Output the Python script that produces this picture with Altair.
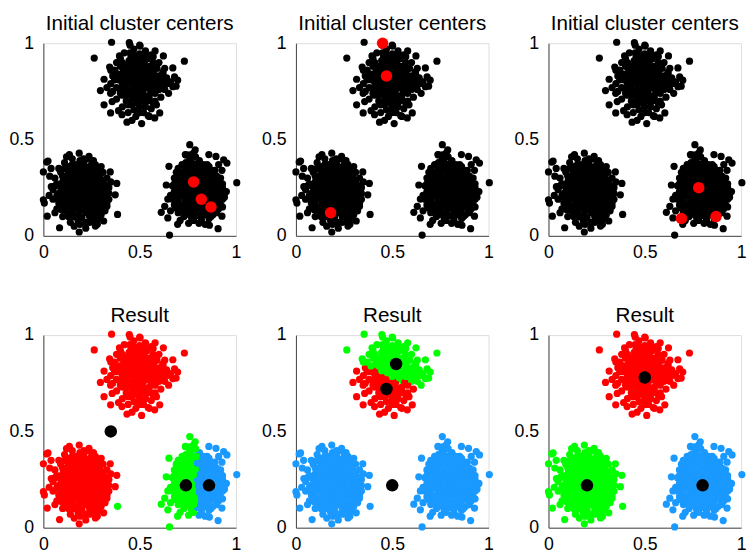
import altair as alt
import pandas as pd

# ---- data (same point cloud in every panel) ----
TOP = [
    # outer points
    (0.354, 1.005), (0.446, 1.003), (0.502, 0.985), (0.264, 0.923), (0.395, 0.934),
    (0.623, 0.934), (0.732, 0.907), (0.344, 0.876), (0.672, 0.872), (0.315, 0.813),
    (0.681, 0.825), (0.689, 0.777), (0.296, 0.754), (0.349, 0.740), (0.315, 0.680),
    (0.357, 0.697), (0.349, 0.638), (0.408, 0.629), (0.434, 0.590), (0.510, 0.583),
    (0.544, 0.624), (0.587, 0.680), (0.604, 0.638), (0.646, 0.791), (0.621, 0.842),
    (0.578, 0.612), (0.697, 0.808), (0.672, 0.774),
    # ring
    (0.38, 0.90), (0.42, 0.95), (0.47, 0.97), (0.53, 0.96), (0.57, 0.93), (0.60, 0.90),
    (0.63, 0.87), (0.64, 0.82), (0.63, 0.76), (0.61, 0.72), (0.58, 0.70), (0.56, 0.66),
    (0.52, 0.64), (0.48, 0.62), (0.44, 0.64), (0.41, 0.67), (0.38, 0.71), (0.36, 0.75),
    (0.35, 0.79), (0.36, 0.83), (0.37, 0.86), (0.40, 0.92), (0.55, 0.62), (0.46, 0.60),
    (0.39, 0.65), (0.33, 0.77), (0.35, 0.86), (0.60, 0.79), (0.62, 0.85), (0.58, 0.96),
    (0.50, 0.99), (0.45, 0.99), (0.40, 0.88), (0.66, 0.80), (0.65, 0.74),
    (0.38, 0.77), (0.39, 0.81), (0.60, 0.76), (0.61, 0.81), (0.59, 0.87), (0.42, 0.87),
    (0.44, 0.68), (0.53, 0.67), (0.50, 0.64), (0.57, 0.90), (0.41, 0.90), (0.45, 0.95),
    (0.52, 0.92), (0.47, 0.655), (0.54, 0.70), (0.37, 0.81), (0.62, 0.79), (0.43, 0.73),
    (0.40, 0.74), (0.56, 0.94),
    # core
    (0.46, 0.68), (0.50, 0.67), (0.43, 0.70), (0.47, 0.71), (0.51, 0.70), (0.55, 0.71),
    (0.41, 0.73), (0.445, 0.74), (0.48, 0.73), (0.515, 0.735), (0.55, 0.73), (0.58, 0.74),
    (0.40, 0.76), (0.43, 0.765), (0.46, 0.76), (0.49, 0.77), (0.52, 0.76), (0.55, 0.765),
    (0.58, 0.77), (0.41, 0.79), (0.445, 0.795), (0.48, 0.79), (0.515, 0.80), (0.55, 0.79),
    (0.585, 0.80), (0.40, 0.82), (0.43, 0.825), (0.46, 0.82), (0.49, 0.83), (0.52, 0.82),
    (0.55, 0.825), (0.58, 0.83), (0.415, 0.85), (0.45, 0.855), (0.48, 0.85), (0.515, 0.86),
    (0.55, 0.85), (0.575, 0.86), (0.43, 0.88), (0.46, 0.885), (0.49, 0.88), (0.52, 0.89),
    (0.55, 0.88), (0.445, 0.91), (0.48, 0.915), (0.51, 0.91), (0.54, 0.92), (0.47, 0.94),
    (0.50, 0.945), (0.53, 0.94), (0.42, 0.80), (0.57, 0.69), (0.60, 0.83), (0.39, 0.84),
    (0.45, 0.695), (0.49, 0.69), (0.53, 0.695), (0.46, 0.725), (0.50, 0.72), (0.535, 0.725),
    (0.415, 0.755), (0.475, 0.75), (0.505, 0.745), (0.565, 0.755), (0.43, 0.785), (0.465, 0.78),
    (0.50, 0.785), (0.535, 0.78), (0.57, 0.785), (0.415, 0.81), (0.445, 0.815), (0.475, 0.805),
    (0.505, 0.81), (0.535, 0.805), (0.565, 0.815), (0.43, 0.84), (0.465, 0.835), (0.50, 0.845),
    (0.535, 0.84), (0.565, 0.845), (0.445, 0.87), (0.475, 0.865), (0.505, 0.875), (0.535, 0.87),
    (0.56, 0.87), (0.46, 0.90), (0.495, 0.895), (0.525, 0.905), (0.455, 0.93), (0.49, 0.925),
    (0.52, 0.93),
]

LEFT = [
    # outer points
    (0.024, 0.388), (0.000, 0.332), (0.033, 0.310), (0.135, 0.422), (0.186, 0.429),
    (0.237, 0.412), (0.347, 0.332), (0.381, 0.272), (0.373, 0.213), (0.330, 0.153),
    (0.385, 0.111), (0.000, 0.187), (0.005, 0.170), (0.020, 0.102), (0.084, 0.042),
    (0.186, 0.020), (0.270, 0.051), (0.313, 0.077), (0.041, 0.255), (0.017, 0.383),
    # ring
    (0.06, 0.30), (0.08, 0.35), (0.11, 0.38), (0.15, 0.40), (0.21, 0.40), (0.26, 0.39),
    (0.30, 0.36), (0.33, 0.30), (0.34, 0.25), (0.34, 0.19), (0.32, 0.13), (0.29, 0.09),
    (0.24, 0.07), (0.19, 0.06), (0.14, 0.07), (0.10, 0.10), (0.07, 0.14), (0.05, 0.19),
    (0.05, 0.24), (0.03, 0.21), (0.09, 0.33), (0.16, 0.05), (0.22, 0.04), (0.28, 0.06),
    (0.35, 0.28), (0.06, 0.12), (0.12, 0.41), (0.04, 0.35),
    (0.07, 0.21), (0.06, 0.26), (0.10, 0.31), (0.13, 0.10), (0.18, 0.08), (0.22, 0.07),
    (0.26, 0.08), (0.30, 0.11), (0.33, 0.17), (0.34, 0.22), (0.31, 0.33), (0.27, 0.37),
    (0.23, 0.40), (0.19, 0.39), (0.15, 0.37), (0.11, 0.35), (0.08, 0.17), (0.095, 0.135),
    (0.20, 0.36), (0.30, 0.29),
    # core
    (0.16, 0.10), (0.20, 0.095), (0.24, 0.10), (0.12, 0.13), (0.155, 0.135), (0.19, 0.13),
    (0.225, 0.135), (0.26, 0.13), (0.29, 0.135), (0.10, 0.16), (0.135, 0.165), (0.17, 0.16),
    (0.205, 0.165), (0.24, 0.16), (0.275, 0.165), (0.31, 0.16), (0.085, 0.19), (0.12, 0.195),
    (0.155, 0.19), (0.19, 0.195), (0.225, 0.19), (0.26, 0.195), (0.295, 0.19), (0.32, 0.20),
    (0.08, 0.22), (0.11, 0.225), (0.145, 0.22), (0.18, 0.225), (0.215, 0.22), (0.25, 0.225),
    (0.285, 0.22), (0.32, 0.23), (0.09, 0.25), (0.125, 0.255), (0.16, 0.25), (0.195, 0.255),
    (0.23, 0.25), (0.265, 0.255), (0.30, 0.25), (0.33, 0.26), (0.10, 0.28), (0.135, 0.285),
    (0.17, 0.28), (0.205, 0.285), (0.24, 0.28), (0.275, 0.285), (0.31, 0.28), (0.115, 0.31),
    (0.15, 0.315), (0.185, 0.31), (0.22, 0.315), (0.255, 0.31), (0.29, 0.315), (0.14, 0.34),
    (0.175, 0.345), (0.21, 0.34), (0.245, 0.345), (0.28, 0.34), (0.17, 0.37), (0.21, 0.375),
    (0.25, 0.37), (0.07, 0.27), (0.13, 0.36), (0.27, 0.11),
    (0.14, 0.115), (0.18, 0.11), (0.22, 0.12), (0.255, 0.115), (0.115, 0.145), (0.15, 0.15),
    (0.185, 0.145), (0.22, 0.15), (0.255, 0.145), (0.29, 0.15), (0.10, 0.175), (0.14, 0.18),
    (0.175, 0.175), (0.21, 0.18), (0.245, 0.175), (0.28, 0.18), (0.30, 0.175), (0.095, 0.205),
    (0.135, 0.21), (0.17, 0.205), (0.205, 0.21), (0.24, 0.205), (0.275, 0.21), (0.305, 0.205),
    (0.095, 0.235), (0.13, 0.24), (0.165, 0.235), (0.20, 0.24), (0.235, 0.235), (0.27, 0.24),
    (0.305, 0.235), (0.11, 0.265), (0.145, 0.27), (0.18, 0.265), (0.215, 0.27), (0.25, 0.265),
    (0.285, 0.27), (0.315, 0.265), (0.12, 0.295), (0.155, 0.30), (0.19, 0.295), (0.225, 0.30),
    (0.26, 0.295), (0.295, 0.30), (0.13, 0.325), (0.165, 0.33), (0.20, 0.325), (0.235, 0.33),
    (0.27, 0.325), (0.16, 0.355), (0.195, 0.36), (0.23, 0.355), (0.26, 0.36),
]

RIGHT = [
    # outer points
    (0.760, 0.473), (0.788, 0.446), (0.737, 0.422), (0.859, 0.422), (0.896, 0.412),
    (0.936, 0.395), (0.953, 0.378), (0.927, 0.340), (1.004, 0.276), (0.652, 0.361),
    (0.638, 0.264), (0.646, 0.191), (0.630, 0.153), (0.612, 0.122), (0.646, 0.093),
    (0.697, 0.060), (0.754, 0.065), (0.808, 0.065), (0.862, 0.055), (0.907, 0.037),
    (0.655, 0.004), (0.927, 0.102), (0.930, 0.150),
    # ring
    (0.69, 0.33), (0.72, 0.37), (0.76, 0.40), (0.81, 0.39), (0.85, 0.37), (0.89, 0.34),
    (0.92, 0.30), (0.93, 0.25), (0.94, 0.20), (0.92, 0.16), (0.90, 0.12), (0.86, 0.09),
    (0.82, 0.08), (0.77, 0.09), (0.73, 0.10), (0.70, 0.12), (0.68, 0.16), (0.66, 0.21),
    (0.67, 0.26), (0.68, 0.30), (0.74, 0.42), (0.78, 0.43), (0.66, 0.13), (0.71, 0.08),
    (0.91, 0.37), (0.95, 0.23), (0.84, 0.06), (0.79, 0.41),
    (0.67, 0.19), (0.68, 0.27), (0.70, 0.35), (0.74, 0.38), (0.83, 0.37), (0.87, 0.34),
    (0.90, 0.31), (0.93, 0.27), (0.93, 0.19), (0.91, 0.14), (0.87, 0.10), (0.82, 0.095),
    (0.78, 0.08), (0.74, 0.12), (0.71, 0.13), (0.69, 0.145), (0.76, 0.42), (0.79, 0.36),
    (0.94, 0.22), (0.85, 0.32),
    # core
    (0.76, 0.11), (0.80, 0.105), (0.84, 0.11), (0.72, 0.14), (0.755, 0.145), (0.79, 0.14),
    (0.825, 0.145), (0.86, 0.14), (0.89, 0.145), (0.70, 0.17), (0.735, 0.175), (0.77, 0.17),
    (0.805, 0.175), (0.84, 0.17), (0.875, 0.175), (0.905, 0.17), (0.69, 0.20), (0.725, 0.205),
    (0.76, 0.20), (0.795, 0.205), (0.83, 0.20), (0.865, 0.205), (0.90, 0.20), (0.925, 0.21),
    (0.68, 0.23), (0.715, 0.235), (0.75, 0.23), (0.785, 0.235), (0.82, 0.23), (0.855, 0.235),
    (0.89, 0.23), (0.92, 0.24), (0.69, 0.26), (0.725, 0.265), (0.76, 0.26), (0.795, 0.265),
    (0.83, 0.26), (0.865, 0.265), (0.90, 0.26), (0.70, 0.29), (0.735, 0.295), (0.77, 0.29),
    (0.805, 0.295), (0.84, 0.29), (0.875, 0.295), (0.72, 0.32), (0.755, 0.325), (0.79, 0.32),
    (0.825, 0.325), (0.86, 0.32), (0.74, 0.35), (0.78, 0.355), (0.82, 0.35), (0.77, 0.38),
    (0.80, 0.375), (0.88, 0.11), (0.71, 0.31), (0.91, 0.28),
    (0.74, 0.125), (0.78, 0.12), (0.82, 0.13), (0.855, 0.125), (0.715, 0.155), (0.75, 0.16),
    (0.785, 0.155), (0.82, 0.16), (0.855, 0.155), (0.885, 0.16), (0.70, 0.185), (0.74, 0.19),
    (0.775, 0.185), (0.81, 0.19), (0.845, 0.185), (0.88, 0.19), (0.905, 0.185), (0.695, 0.215),
    (0.735, 0.22), (0.77, 0.215), (0.805, 0.22), (0.84, 0.215), (0.875, 0.22), (0.905, 0.215),
    (0.695, 0.245), (0.73, 0.25), (0.765, 0.245), (0.80, 0.25), (0.835, 0.245), (0.87, 0.25),
    (0.905, 0.245), (0.71, 0.275), (0.745, 0.28), (0.78, 0.275), (0.815, 0.28), (0.85, 0.275),
    (0.885, 0.28), (0.91, 0.275), (0.72, 0.305), (0.755, 0.31), (0.79, 0.305), (0.825, 0.31),
    (0.86, 0.305), (0.89, 0.31), (0.73, 0.335), (0.765, 0.34), (0.80, 0.335), (0.835, 0.34),
    (0.87, 0.335), (0.76, 0.365), (0.795, 0.37), (0.83, 0.365), (0.86, 0.36),
]

INIT_CENTERS = [
    [(0.78, 0.28), (0.82, 0.19), (0.87, 0.15)],
    [(0.45, 1.00), (0.47, 0.83), (0.18, 0.12)],
    [(0.78, 0.25), (0.69, 0.09), (0.87, 0.10)],
]
# result centers listed in the order red, green, blue
RESULT_CENTERS = [
    [(0.35, 0.50), (0.74, 0.22), (0.86, 0.22)],
    [(0.47, 0.72), (0.52, 0.85), (0.50, 0.22)],
    [(0.50, 0.78), (0.20, 0.22), (0.80, 0.22)],
]
GROUPS = ["red", "green", "blue"]
COLOR_DOMAIN = ["black", "red", "green", "blue"]
COLOR_RANGE = ["#000000", "#FF0000", "#00FF00", "#1A99FF"]

points = pd.DataFrame(TOP + LEFT + RIGHT, columns=["x", "y"])

FONT = "Liberation Sans"
W = 196
H = 196


def scales():
    x = alt.X("x:Q", scale=alt.Scale(domain=[0, 1], nice=False),
              axis=alt.Axis(values=[0, 0.5, 1], format="~g", title=None, grid=False,
                            ticks=False, labelPadding=8, labelFontSize=18, labelFont=FONT,
                            labelColor="#000000", domainColor="#444444", labelFlush=False))
    y = alt.Y("y:Q", scale=alt.Scale(domain=[0, 1], nice=False),
              axis=alt.Axis(values=[0, 0.5, 1], format="~g", title=None, grid=False,
                            ticks=False, labelPadding=10, labelFontSize=18, labelFont=FONT,
                            labelColor="#000000", domainColor="#444444", labelFlush=False))
    return x, y


def panel(df, centers, center_color, title):
    x, y = scales()
    cscale = alt.Scale(domain=COLOR_DOMAIN, range=COLOR_RANGE)
    pts = alt.Chart(df).mark_circle(size=54, opacity=1).encode(
        x=x, y=y, color=alt.Color("grp:N", scale=cscale, legend=None))
    cdf = pd.DataFrame(centers, columns=["x", "y"])
    csize = 137 if center_color == "#FF0000" else 161
    cen = alt.Chart(cdf).mark_circle(size=csize, opacity=1, color=center_color).encode(x=x, y=y)
    return alt.layer(pts, cen).properties(
        width=W, height=H,
        title=alt.TitleParams(title, fontSize=21, font=FONT, fontWeight="normal",
                              color="#000000", offset=0))


top_row = []
bottom_row = []
for k in range(3):
    d0 = points.copy()
    d0["grp"] = "black"
    top_row.append(panel(d0, INIT_CENTERS[k], "#FF0000", "Initial cluster centers"))

    d1 = points.copy()
    cs = RESULT_CENTERS[k]
    dist = pd.DataFrame({g: (d1["x"] - cx) ** 2 + (d1["y"] - cy) ** 2
                         for g, (cx, cy) in zip(GROUPS, cs)})
    d1["grp"] = dist.idxmin(axis=1)
    bottom_row.append(panel(d1, cs, "#000000", "Result"))

chart = alt.vconcat(
    alt.hconcat(*top_row, spacing=19),
    alt.hconcat(*bottom_row, spacing=19),
    spacing=43,
).properties(padding=0).configure_view(stroke="transparent").configure(background="#FFFFFF")

chart.save("out.html", embed_options={"renderer": "svg", "actions": False})
